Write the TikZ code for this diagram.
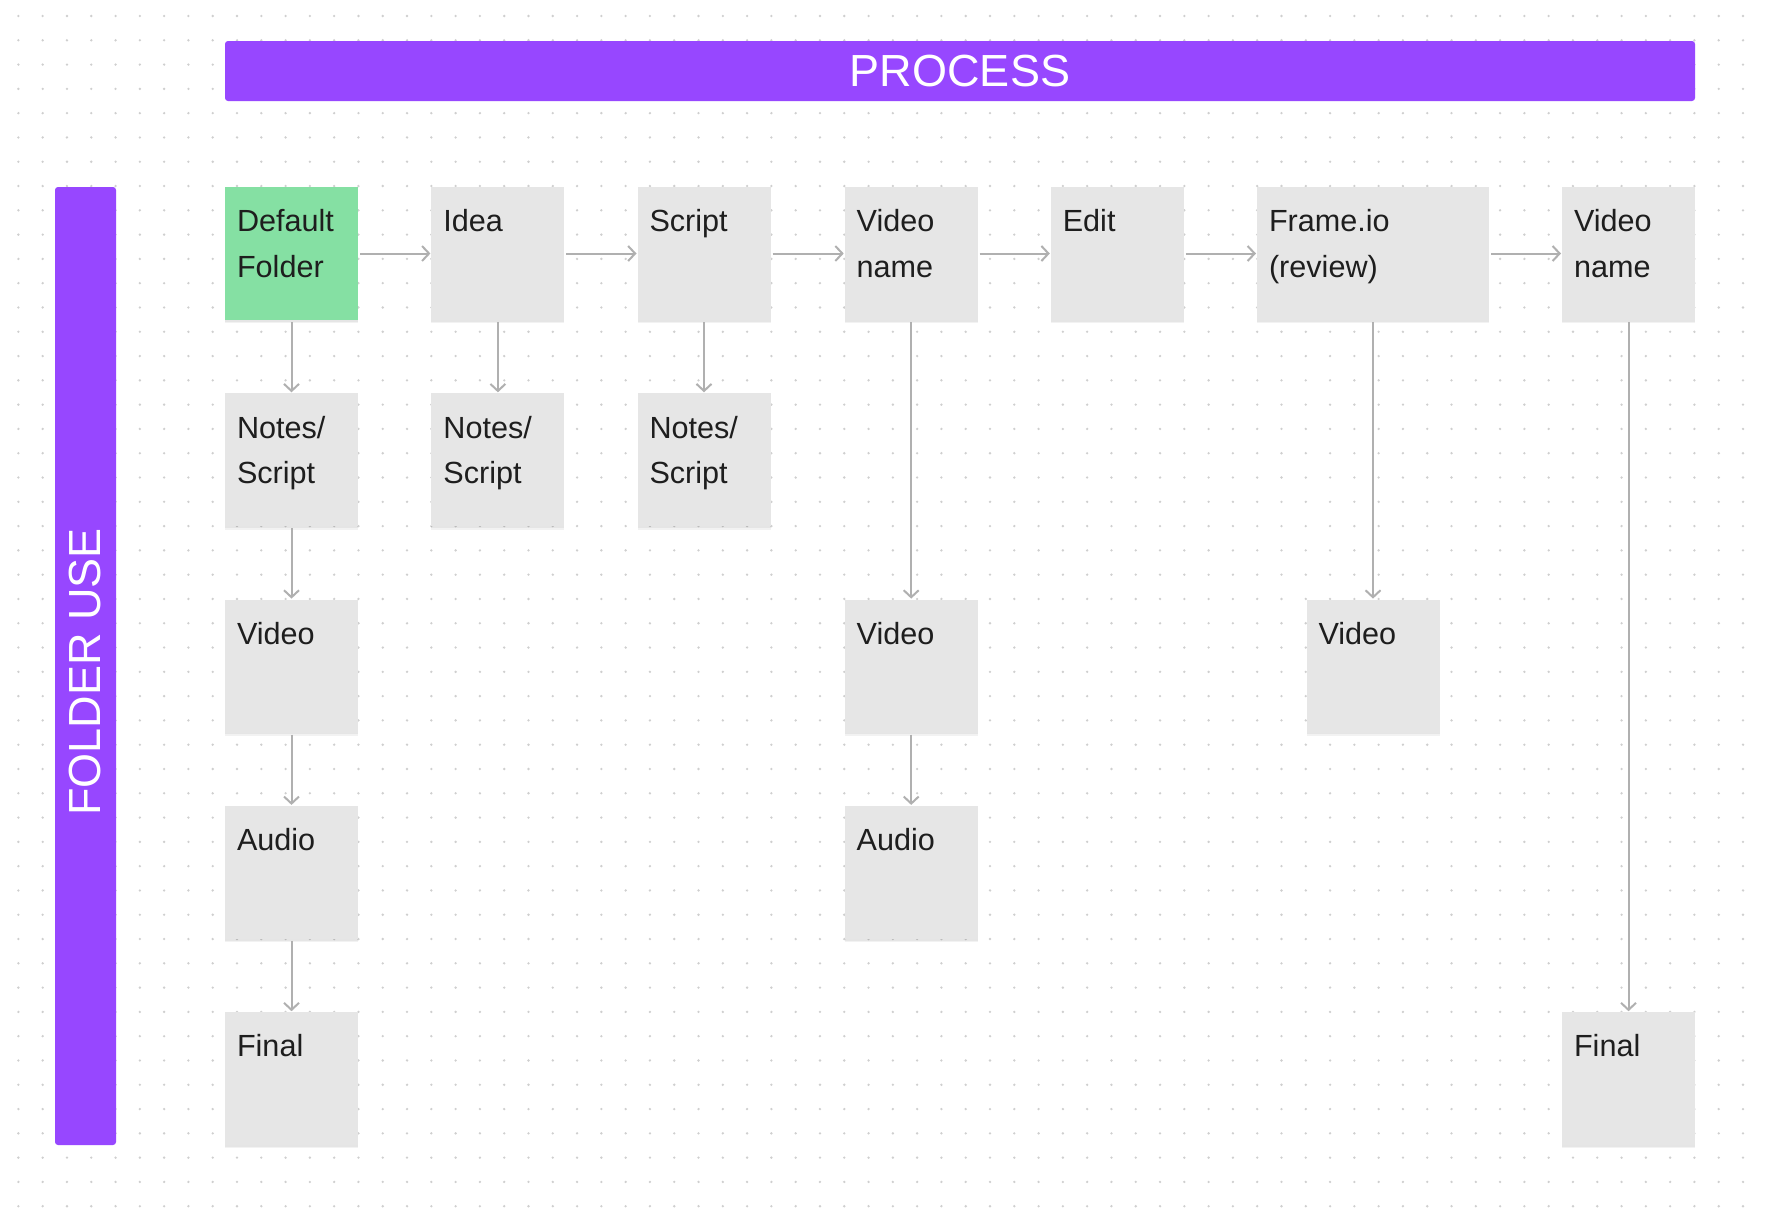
\documentclass[tikz,border=0pt]{standalone}
\usepackage{fontspec}
\setmainfont{Liberation Sans}
\usetikzlibrary{arrows.meta,shadows}
\definecolor{purp}{HTML}{9747FF}
\definecolor{grn}{HTML}{85E0A3}
\definecolor{boxg}{HTML}{E6E6E6}
\definecolor{txtc}{HTML}{1E1E1E}
\definecolor{arrc}{HTML}{B0B0B0}
\definecolor{dotc}{HTML}{CFCFCF}
\tikzset{
  cell/.style={rectangle, fill=boxg, inner sep=0pt, outer sep=0pt,
    minimum width=66.5pt, minimum height=66.5pt, anchor=north west,
    drop shadow={shadow xshift=0pt, shadow yshift=-1.6pt, fill=black, opacity=0.05},
    drop shadow={shadow xshift=0pt, shadow yshift=-0.8pt, fill=black, opacity=0.05}},
  lbl/.style={align=left, inner sep=0pt, outer sep=0pt, anchor=base west,
    text=txtc, font=\fontsize{15.3}{22.85}\selectfont},
  bar/.style={rectangle, fill=purp, rounded corners=1.5pt, inner sep=0pt, outer sep=0pt},
  bartext/.style={text=white, inner sep=0pt, font=\fontsize{22.5}{26}\selectfont},
  conn/.style={draw=arrc, line width=1pt, shorten <=1pt, shorten >=0.5pt,
    -{Straight Barb[length=3.5pt, width=7.5pt, line width=1pt]}},
}
\begin{document}
\begin{tikzpicture}[x=0.5pt, y=-0.5pt]
\useasboundingbox[fill=white] (0,0) rectangle (1766,1226);
% dot grid
\foreach \i in {0,...,71}{
  \foreach \j in {0,...,49}{
    \fill[dotc] (18.4+24.29*\i, 16+24.29*\j) circle (0.65pt);
  }
}
% header bars
\node[bar, anchor=north west, minimum width=735pt, minimum height=30pt] (proc) at (225,41) {};
\node[bartext] (proct) at (proc.center) {PROCESS};
\node[bar, anchor=north west, minimum width=30.5pt, minimum height=479pt] (fold) at (55,187) {};
\node[bartext, rotate=90] (foldt) at (85.5,672) {FOLDER USE};

% row 1
\node[cell, fill=grn] (def) at (225,187) {};
\node[cell] (idea) at (431.4,187) {};
\node[cell] (scr) at (637.5,187) {};
\node[cell] (vn) at (844.7,187) {};
\node[cell] (edit) at (1050.8,187) {};
\node[cell, minimum width=116pt] (frame) at (1257,187) {};
\node[cell] (vn2) at (1562,187) {};
% row 2
\node[cell] (n1) at (225,393.3) {};
\node[cell] (n2) at (431.4,393.3) {};
\node[cell] (n3) at (637.5,393.3) {};
% row 3
\node[cell] (v1) at (225,599.6) {};
\node[cell] (v2) at (844.7,599.6) {};
\node[cell] (v3) at (1306.5,599.6) {};
% row 4
\node[cell] (a1) at (225,805.9) {};
\node[cell] (a2) at (844.7,805.9) {};
% row 5
\node[cell] (f1) at (225,1012.2) {};
\node[cell] (f2) at (1562,1012.2) {};

% labels (one-line: baseline at 44.7 below top; two-line: last baseline at 90.4)
\node[lbl] (tdef) at ([shift={(12,90.4)}]def.north west) {Default\\Folder};
\node[lbl] (tidea) at ([shift={(12,44.7)}]idea.north west) {Idea};
\node[lbl] (tscr) at ([shift={(12,44.7)}]scr.north west) {Script};
\node[lbl] (tvn) at ([shift={(12,90.4)}]vn.north west) {Video\\name};
\node[lbl] (tedit) at ([shift={(12,44.7)}]edit.north west) {Edit};
\node[lbl] (tframe) at ([shift={(12,90.4)}]frame.north west) {Frame.io\\(review)};
\node[lbl] (tvn2) at ([shift={(12,90.4)}]vn2.north west) {Video\\name};
\node[lbl] (tn1) at ([shift={(12,90.4)}]n1.north west) {Notes/\\Script};
\node[lbl] (tn2) at ([shift={(12,90.4)}]n2.north west) {Notes/\\Script};
\node[lbl] (tn3) at ([shift={(12,90.4)}]n3.north west) {Notes/\\Script};
\node[lbl] (tv1) at ([shift={(12,44.7)}]v1.north west) {Video};
\node[lbl] (tv2) at ([shift={(12,44.7)}]v2.north west) {Video};
\node[lbl] (tv3) at ([shift={(12,44.7)}]v3.north west) {Video};
\node[lbl] (ta1) at ([shift={(12,44.7)}]a1.north west) {Audio};
\node[lbl] (ta2) at ([shift={(12,44.7)}]a2.north west) {Audio};
\node[lbl] (tf1) at ([shift={(12,44.7)}]f1.north west) {Final};
\node[lbl] (tf2) at ([shift={(12,44.7)}]f2.north west) {Final};

% connectors
\draw[conn] (def) -- (idea);
\draw[conn] (idea) -- (scr);
\draw[conn] (scr) -- (vn);
\draw[conn] (vn) -- (edit);
\draw[conn] (edit) -- (frame);
\draw[conn] (frame) -- (vn2);
\draw[conn] (def) -- (n1);
\draw[conn] (n1) -- (v1);
\draw[conn] (v1) -- (a1);
\draw[conn] (a1) -- (f1);
\draw[conn] (idea) -- (n2);
\draw[conn] (scr) -- (n3);
\draw[conn] (vn) -- (v2);
\draw[conn] (v2) -- (a2);
\draw[conn] (frame) -- (v3);
\draw[conn] (vn2) -- (f2);
\end{tikzpicture}
\end{document}
